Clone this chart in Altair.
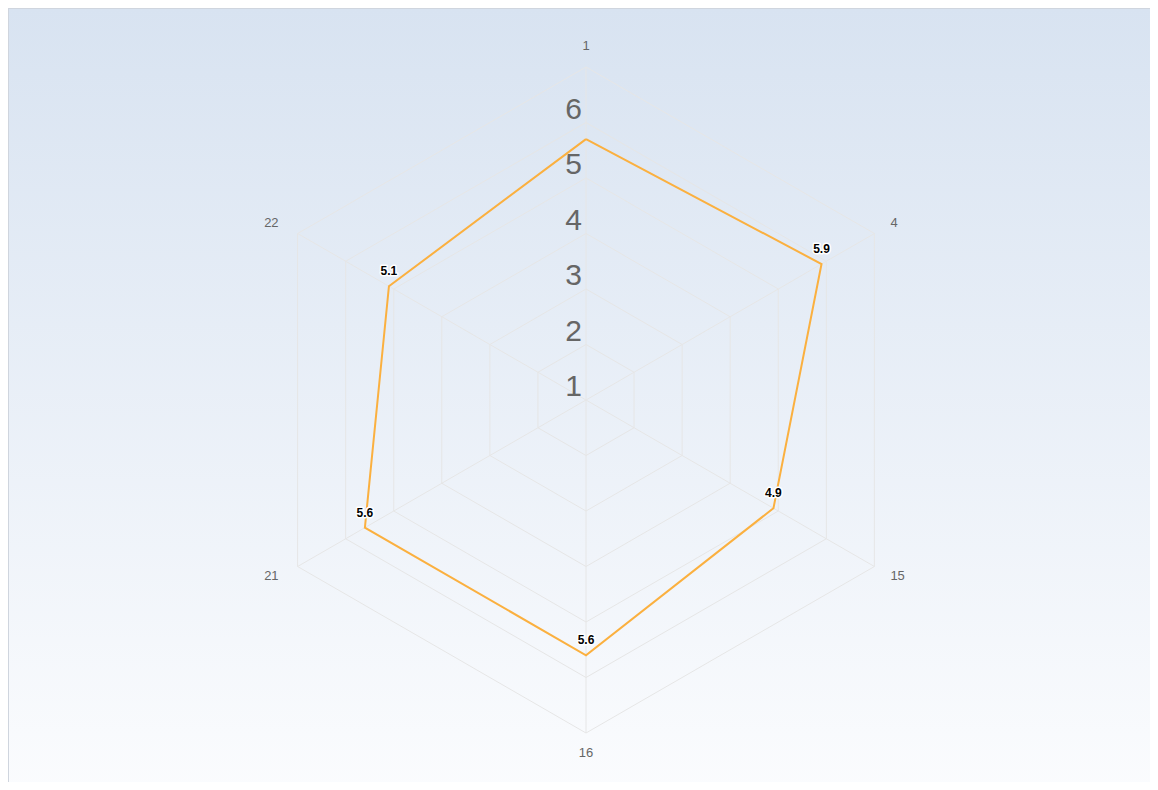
import altair as alt
import pandas as pd

# ---- data ----
categories = ["1", "4", "15", "16", "21", "22"]
values = [5.7, 5.9, 4.9, 5.6, 5.6, 5.1]
value_labels = ["", "5.9", "4.9", "5.6", "5.6", "5.1"]
ring_values = [2, 3, 4, 5, 6, 7]
tick_labels = [1, 2, 3, 4, 5, 6]
scale_min = 1
scale_max = 7

# ---- layout ----
W, H = 1142, 774
unit = 55.5
cx, cy = 578, 392
xdom = [-cx / unit, (W - cx) / unit]
ydom = [-(H - cy) / unit, cy / unit]
FONT = "Liberation Sans"
n = len(categories)
R = scale_max - scale_min

X = alt.X("x:Q", scale=alt.Scale(domain=xdom, nice=False, zero=False), axis=None)
Y = alt.Y("y:Q", scale=alt.Scale(domain=ydom, nice=False, zero=False), axis=None)
X2 = alt.X2("x2:Q")
Y2 = alt.Y2("y2:Q")

ang = f"datum.idx * 2 * PI / {n}"

# background
bg_df = pd.DataFrame({"k": [0]})
background = alt.Chart(bg_df).mark_rect(
    color=alt.LinearGradient(
        gradient="linear",
        stops=[alt.GradientStop(color="#d8e3f1", offset=0),
               alt.GradientStop(color="#fbfcfe", offset=1)],
        x1=0, x2=0, y1=0, y2=1,
    )
).encode(x=alt.value(0), x2=alt.value(W), y=alt.value(0), y2=alt.value(H + 16))

frame_left = alt.Chart(bg_df).mark_rule(color="#cfd5de", strokeWidth=2).encode(
    x=alt.value(0), y=alt.value(0), y2=alt.value(H))
frame_top = alt.Chart(bg_df).mark_rule(color="#cfd5de", strokeWidth=2).encode(
    x=alt.value(0), x2=alt.value(W), y=alt.value(0))

# grid rings
ring_rows = []
for rv in ring_values:
    for i in range(n + 1):
        ring_rows.append({"ring": rv, "idx": i % n, "ord": i})
ring_df = pd.DataFrame(ring_rows)
rings = alt.Chart(ring_df).transform_calculate(
    r=f"datum.ring - {scale_min}"
).transform_calculate(
    x=f"datum.r * sin({ang})", y=f"datum.r * cos({ang})"
).mark_line(color="#e6e6e6", strokeWidth=1).encode(
    x=X, y=Y, detail="ring:N", order="ord:Q"
)

# spokes
spoke_df = pd.DataFrame({"cat": categories, "idx": list(range(n))})
spokes = alt.Chart(spoke_df).transform_calculate(
    x="0", y="0",
    x2=f"{R} * sin({ang})",
    y2=f"{R} * cos({ang})",
).mark_rule(color="#e6e6e6", strokeWidth=1).encode(x=X, y=Y, x2=X2, y2=Y2)

# category labels (placed next to outer vertices)
cat_base = alt.Chart(spoke_df).transform_calculate(
    x=f"{R} * sin({ang})", y=f"{R} * cos({ang})", s=f"sin({ang})", c=f"cos({ang})"
)
txt = dict(font=FONT, fontSize=13, color="#666666", baseline="middle")
enc = dict(x=X, y=Y, text="cat:N")
cat_layers = [
    cat_base.transform_filter("datum.s > 0.1 && datum.c > 0").mark_text(
        align="left", dx=16, dy=-11, **txt).encode(**enc),
    cat_base.transform_filter("datum.s > 0.1 && datum.c < 0").mark_text(
        align="left", dx=16, dy=9, **txt).encode(**enc),
    cat_base.transform_filter("datum.s < -0.1 && datum.c > 0").mark_text(
        align="right", dx=-19, dy=-11, **txt).encode(**enc),
    cat_base.transform_filter("datum.s < -0.1 && datum.c < 0").mark_text(
        align="right", dx=-19, dy=9, **txt).encode(**enc),
    cat_base.transform_filter("abs(datum.s) <= 0.1 && datum.c > 0").mark_text(
        align="center", dy=-21, **txt).encode(**enc),
    cat_base.transform_filter("abs(datum.s) <= 0.1 && datum.c < 0").mark_text(
        align="center", dy=20, **txt).encode(**enc),
]

# ring tick labels
tick_df = pd.DataFrame({"t": tick_labels})
ticks = alt.Chart(tick_df).transform_calculate(
    x="0", y=f"datum.t - {scale_min}"
).mark_text(font=FONT, fontSize=30, color="#666666", align="right",
            baseline="alphabetic", dx=-4, dy=-4).encode(x=X, y=Y, text="t:N")

# series
rows = []
for i in range(n + 1):
    j = i % n
    rows.append({"cat": categories[j], "value": values[j], "label": value_labels[j],
                 "idx": j, "ord": i})
series_df = pd.DataFrame(rows)
series_base = alt.Chart(series_df).transform_calculate(
    r=f"datum.value - {scale_min}"
).transform_calculate(
    x=f"datum.r * sin({ang})", y=f"datum.r * cos({ang})"
)
line = series_base.mark_line(color="#fbb03f", strokeWidth=2).encode(
    x=X, y=Y, order="ord:Q"
)
lab_base = series_base.transform_filter("datum.ord < %d" % n)
halo = lab_base.mark_text(font=FONT, fontSize=12, fontWeight="bold", color="white",
                          stroke="white", strokeWidth=3, strokeJoin="round",
                          align="center", baseline="alphabetic", dy=-11).encode(
    x=X, y=Y, text="label:N")
labels = lab_base.mark_text(font=FONT, fontSize=12, fontWeight="bold", color="black",
                            align="center", baseline="alphabetic", dy=-11).encode(
    x=X, y=Y, text="label:N")

chart = alt.layer(background, frame_left, frame_top, rings, spokes, line, ticks,
                  *cat_layers, halo, labels).properties(
    width=W, height=H, padding=0, autosize=alt.AutoSizeParams(type="none")
).configure_view(strokeWidth=0)

chart.save("out.html", embed_options={"renderer": "svg", "actions": False})
